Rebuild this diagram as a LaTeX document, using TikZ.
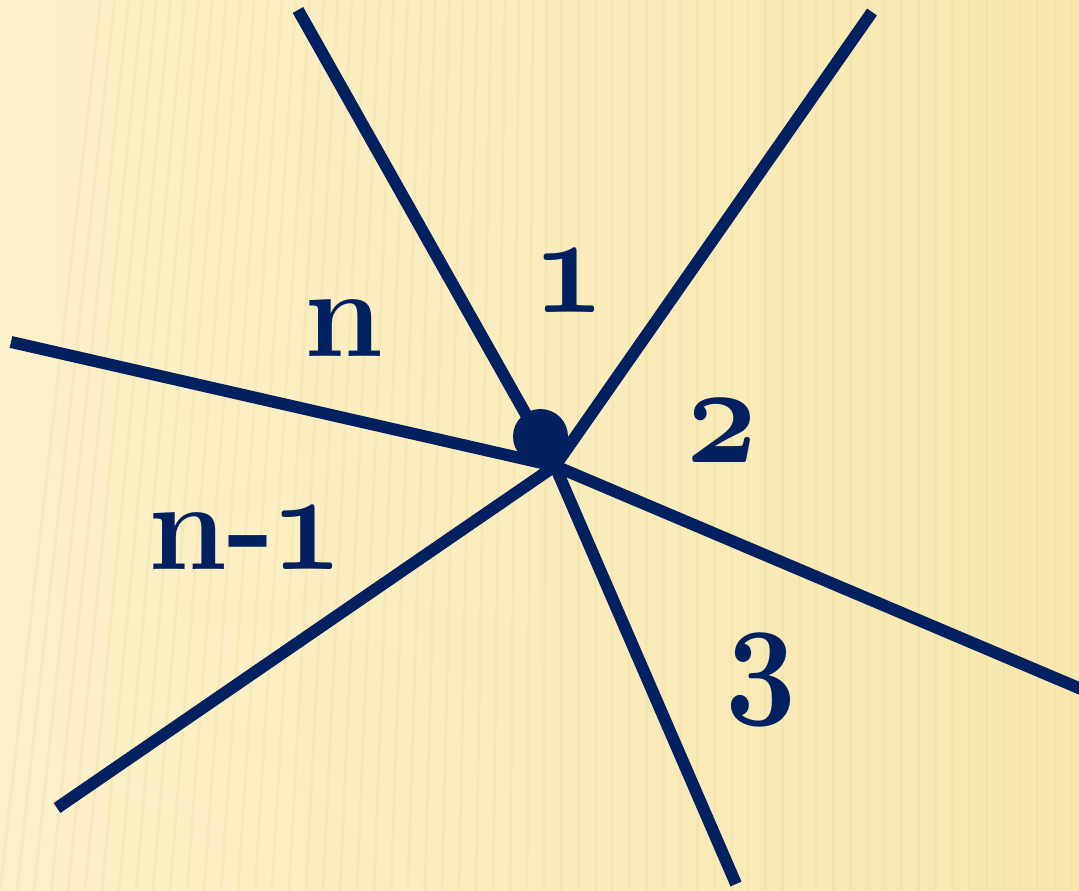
\documentclass[tikz,border=0pt]{standalone}
\usetikzlibrary{calc}
\definecolor{navy}{HTML}{002060}
\definecolor{bgA}{HTML}{FDF1CA}
\definecolor{bgB}{HTML}{F8E8B0}
\definecolor{stripe}{HTML}{EBD48A}
\DeclareFontFamily{OML}{oscmm}{\skewchar\font'177}
\DeclareFontShape{OML}{oscmm}{b}{it}{<->cmmib10}{}
\newcommand{\osnum}[1]{\scalebox{0.88}[1]{\fontencoding{OML}\fontfamily{oscmm}\fontseries{b}\fontshape{it}\selectfont #1}}
\tikzset{
  ray/.style={draw=navy, line width=0.24cm, line cap=butt},
  lbl/.style={text=navy, anchor=base, inner sep=0pt, font=\fontsize{72}{72}\selectfont\bfseries},
  numlbl/.style={text=navy, anchor=base, inner sep=0pt, font=\fontsize{80}{80}\selectfont},
}
\begin{document}
\begin{tikzpicture}[x=0.02cm, y=-0.02cm]
\useasboundingbox (0,0) rectangle (1079,891);
\clip (0,0) rectangle (1079,891);
\shade[left color=bgA, right color=bgB] (0,0) rectangle (1079,891);
\foreach \x in {0,17,...,1100}{
  \pgfmathsetmacro{\off}{max(0,(560-\x))*0.18}
  \draw[stripe, line width=0.06cm, opacity=0.22] (\x+\off,0) -- (\x,891);
}
% center and ends
\coordinate (c) at (555,466);
\coordinate (e1) at (298,10);
\coordinate (e2) at (872,12);
\coordinate (e3) at (11,342);
\coordinate (e4) at (57,808);
\coordinate (e5) at (736,884);
\coordinate (e6) at (1100,697);
\draw[ray] (e1) -- (c);
\draw[ray] (e2) -- (c);
\draw[ray] (e3) -- (c);
\draw[ray] (e4) -- (c);
\draw[ray] (e5) -- (c);
\draw[ray] (e6) -- (c);
\node[circle, fill=navy, inner sep=0pt, minimum size=1.1cm] (dot) at (540.5,436.5) {};
% labels
\node[lbl] (ln) at (344,357) {n};
\node[numlbl] (l1) at (569,313) {\osnum{1}};
\node[numlbl] (l2) at (722,463) {\osnum{2}};
\node[numlbl] (l3) at (761,698) {\osnum{3}};
\node[lbl, anchor=base west] (lnm) at (148,570) {n-\kern-2pt\fontsize{80}{80}\selectfont\osnum{1}};
\end{tikzpicture}
\end{document}
